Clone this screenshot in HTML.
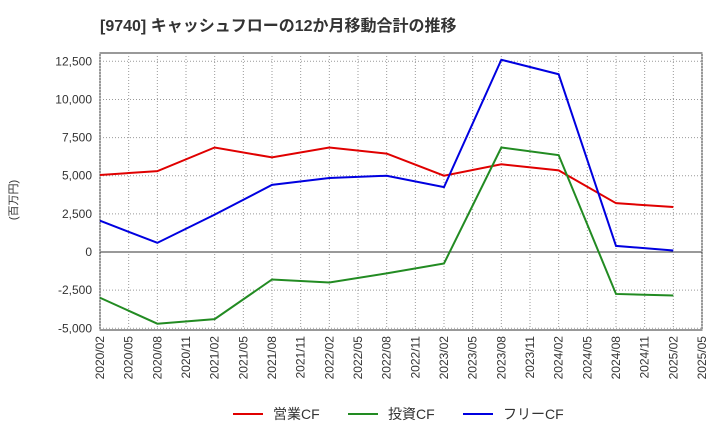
<!DOCTYPE html>
<html><head><meta charset="utf-8"><style>
body{margin:0;background:#fff;font-family:"Liberation Sans","Noto Sans CJK JP",sans-serif}
</style></head><body>
<svg id="c" width="720" height="440" xmlns="http://www.w3.org/2000/svg"></svg>
<script>
const xLabels=["2020/02","2020/05","2020/08","2020/11","2021/02","2021/05","2021/08","2021/11","2022/02","2022/05","2022/08","2022/11","2023/02","2023/05","2023/08","2023/11","2024/02","2024/05","2024/08","2024/11","2025/02","2025/05"];
const pointIdx=[0,2,4,6,8,10,12,14,16,18,20];
const opCF=[5050,5300,6850,6200,6850,6450,5000,5750,5350,3200,2950];
const invCF=[-3000,-4700,-4400,-1800,-2000,-1400,-750,6850,6350,-2750,-2850];
const freeCF=[2050,600,2450,4400,4850,5000,4250,12600,11650,400,100];
const yTicks=[-5000,-2500,0,2500,5000,7500,10000,12500];
const L=100,R=702,T=53,B=330;
const xs=i=>L+(R-L)*i/(xLabels.length-1);
const ys=v=>252-v*(38.14/2500);
const s=document.getElementById('c');
function el(t,a,txt){const e=document.createElementNS('http://www.w3.org/2000/svg',t);for(const k in a)e.setAttribute(k,a[k]);if(txt!=null)e.textContent=txt;s.appendChild(e);return e;}
let e=el('text',{x:100,y:31,'font-size':16,'font-weight':'bold',fill:'#333'},'[9740]  キャッシュフローの12か月移動合計の推移');

e=el('rect',{x:L,y:T,width:R-L,height:B-T,fill:'none',stroke:'#333'});

yTicks.forEach(v=>{const y=ys(v);
 e=el('line',{x1:L,x2:R,y1:y,y2:y,stroke:v===0?'#333':'#999','stroke-dasharray':v===0?'':'1,2'});
 
 e=el('text',{x:L-8,y:y+4,'font-size':12,'text-anchor':'end',fill:'#333'},v.toLocaleString('en-US'));
 });
xLabels.forEach((lb,i)=>{const x=xs(i);
 e=el('line',{x1:x,x2:x,y1:T,y2:B,stroke:'#999','stroke-dasharray':'1,2'});
 
 e=el('text',{x:x+4,y:B+6,'font-size':12,'text-anchor':'end',fill:'#333',transform:`rotate(-90 ${x+4} ${B+6})`},lb);
 });
e=el('text',{x:17,y:200,'font-size':11,'text-anchor':'middle',fill:'#333',transform:'rotate(-90 17 200)'},'(百万円)');

const series=[[opCF,'#e00000','operating-cf-line'],[invCF,'#228b22','investing-cf-line'],[freeCF,'#0000e0','free-cf-line']];
series.forEach(([d,c,n])=>{e=el('polyline',{points:d.map((v,i)=>xs(pointIdx[i])+','+ys(v)).join(' '),fill:'none',stroke:c,'stroke-width':2});
 });
const leg=[['営業CF','#e00000',233],['投資CF','#228b22',348],['フリーCF','#0000e0',463]];
leg.forEach(([t,c,x])=>{e=el('line',{x1:x,x2:x+30,y1:414,y2:414,stroke:c,'stroke-width':2});
 
 e=el('text',{x:x+40,y:419,'font-size':14,fill:'#333'},t);
 });
</script>
</body></html>
